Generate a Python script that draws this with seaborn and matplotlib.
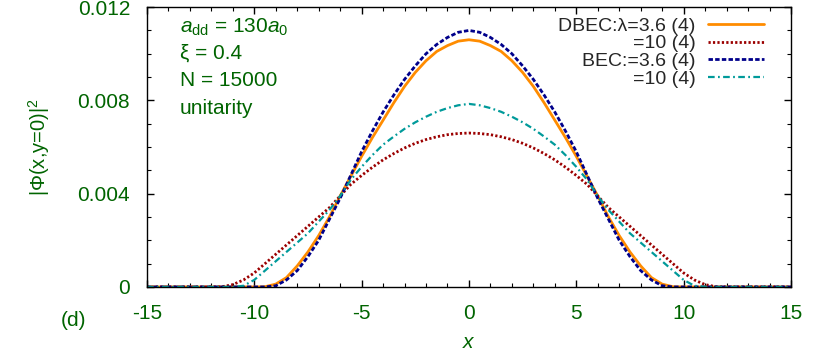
import numpy as np
import matplotlib
matplotlib.use('Agg')
import matplotlib.pyplot as plt
import seaborn as sns

sns.set_style('ticks')
plt.rcParams['font.family'] = ['Liberation Sans', 'DejaVu Sans']
plt.rcParams['mathtext.fontset'] = 'custom'
plt.rcParams['mathtext.rm'] = 'Liberation Sans'
plt.rcParams['mathtext.it'] = 'Liberation Sans:italic'

# datos
x = [-15, -12, -11.5, -11, -10.5, -10, -9.5, -9, -8.5, -8, -7.5, -7, -6.5, -6,
     -5.5, -5, -4.5, -4, -3.5, -3, -2.5, -2, -1.5, -1, -0.5, 0,
     0.5, 1, 1.5, 2, 2.5, 3, 3.5, 4, 4.5, 5, 5.5, 6, 6.5, 7, 7.5, 8, 8.5, 9,
     9.5, 10, 10.5, 11, 11.5, 12, 15]

dbec_36 = [0, 0, 0, 0, 0, 0, 0.00001, 0.00012, 0.0004, 0.0009, 0.0015, 0.0022, 0.0030, 0.0039,
           0.00475, 0.0056, 0.0064, 0.00715, 0.0079, 0.0086, 0.0092, 0.0097, 0.0101, 0.01035, 0.01054, 0.0106,
           0.01054, 0.01035, 0.0101, 0.0097, 0.0092, 0.0086, 0.0079, 0.00715, 0.0064, 0.0056, 0.00475,
           0.0039, 0.0030, 0.0022, 0.0015, 0.0009, 0.0004, 0.00012, 0.00001, 0, 0, 0, 0, 0, 0]

dbec_10 = [0, 0, 0.00001, 0.0001, 0.0003, 0.0006, 0.0010, 0.0014, 0.0018, 0.0022, 0.0026, 0.0030, 0.0034, 0.0039,
           0.0044, 0.00478, 0.00513, 0.00545, 0.00572, 0.00596, 0.00616, 0.00632, 0.00644, 0.00653, 0.00658, 0.0066,
           0.00658, 0.00653, 0.00644, 0.00632, 0.00616, 0.00596, 0.00572, 0.00545, 0.00513, 0.00478, 0.0044,
           0.0039, 0.0034, 0.0030, 0.0026, 0.0022, 0.0018, 0.0014, 0.0010, 0.0006, 0.0003, 0.0001, 0.00001, 0, 0]

bec_36 = [0, 0, 0, 0, 0, 0, 0, 0.00005, 0.0003, 0.0007, 0.0013, 0.0020, 0.0029, 0.0038,
          0.0048, 0.0058, 0.00668, 0.0075, 0.00823, 0.0089, 0.00948, 0.0100, 0.0104, 0.0107, 0.01092, 0.0110,
          0.01092, 0.0107, 0.0104, 0.0100, 0.00948, 0.0089, 0.00823, 0.0075, 0.00668, 0.0058, 0.0048,
          0.0038, 0.0029, 0.0020, 0.0013, 0.0007, 0.0003, 0.00005, 0, 0, 0, 0, 0, 0, 0]

bec_10 = [0, 0, 0, 0, 0.00005, 0.0003, 0.0007, 0.0011, 0.0015, 0.0019, 0.0023, 0.0028, 0.0033, 0.0039,
          0.0046, 0.00515, 0.00565, 0.0061, 0.00645, 0.00678, 0.00706, 0.0073, 0.00751, 0.00767, 0.00779, 0.00785,
          0.00779, 0.00767, 0.00751, 0.0073, 0.00706, 0.00678, 0.00645, 0.0061, 0.00565, 0.00515, 0.0046,
          0.0039, 0.0033, 0.0028, 0.0023, 0.0019, 0.0015, 0.0011, 0.0007, 0.0003, 0.00005, 0, 0, 0, 0]

labels = ['DBEC:λ=3.6 (4)', '=10 (4)', 'BEC:=3.6 (4)', '=10 (4)']
xticks = [-15, -10, -5, 0, 5, 10, 15]
xticklabels = ['-15', '-10', '-5', '0', '5', '10', '15']
yticks = [0, 0.004, 0.008, 0.012]
yticklabels = ['0', '0.004', '0.008', '0.012']

green = '#006400'

fig = plt.figure(figsize=(8.3, 3.56), dpi=100)
ax = fig.add_axes([0.177, 0.194, 0.776, 0.786])

sns.lineplot(x=x, y=dbec_36, ax=ax, color='#ff8c00', lw=2, label=labels[0])
sns.lineplot(x=x, y=dbec_10, ax=ax, color='#9b0000', lw=2, linestyle=(0, (0.8, 0.8)), label=labels[1])
sns.lineplot(x=x, y=bec_36, ax=ax, color='#00008b', lw=2, linestyle=(0, (1.6, 0.8)), label=labels[2])
sns.lineplot(x=x, y=bec_10, ax=ax, color='#009a9a', lw=1.6, linestyle=(0, (3, 1.5, 0.8, 1.5)), label=labels[3])

ax.set_xlim(-15, 15)
ax.set_ylim(0, 0.012)
ax.set_xticks(xticks)
ax.set_xticklabels(xticklabels)
ax.set_yticks(yticks)
ax.set_yticklabels(yticklabels)
ax.set_xticks(np.arange(-15, 16, 1), minor=True)
ax.set_yticks(np.arange(0, 0.0121, 0.001), minor=True)
ax.tick_params(which='both', direction='in', top=True, right=True, colors='black',
               labelcolor=green, labelsize=15, pad=12)
ax.tick_params(which='major', length=5, width=1)
ax.tick_params(which='minor', length=3, width=0.8)
for s in ax.spines.values():
    s.set_color('black')
    s.set_linewidth(1)

ax.set_xlabel(r'$x$', color=green, fontsize=15)
ax.xaxis.set_label_coords(0.5, -0.165)
ax.set_ylabel(r'|Φ(x,y=0)|$^2$', color=green, fontsize=14.5)
ax.yaxis.set_label_coords(-0.147, 0.5)

tx = 0.051
ax.text(tx, 0.929, r'$a_{\rm dd}$ = 130$a_0$', transform=ax.transAxes, color=green, fontsize=15, va='center')
ax.text(tx, 0.836, 'ξ = 0.4', transform=ax.transAxes, color=green, fontsize=15, va='center')
ax.text(tx, 0.739, 'N = 15000', transform=ax.transAxes, color=green, fontsize=15, va='center')
ax.text(tx, 0.639, 'unitarity', transform=ax.transAxes, color=green, fontsize=15, va='center')
fig.text(0.088, 0.101, '(d)', color=green, fontsize=15, ha='center', va='center')

leg = ax.legend(loc='upper right', bbox_to_anchor=(0.967, 0.985), frameon=False, markerfirst=False,
                fontsize=14, handlelength=2.85, handletextpad=0.67, labelspacing=0.0,
                borderaxespad=0.1, borderpad=0.2)

fig.savefig('out.png', dpi=100)
